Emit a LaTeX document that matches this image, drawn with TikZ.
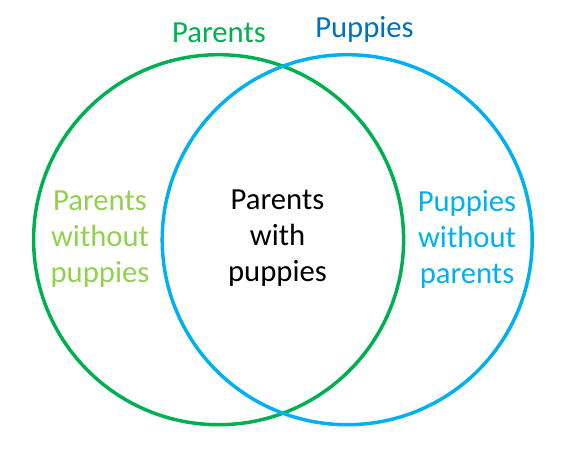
\documentclass[tikz,border=0pt]{standalone}
\usepackage{fontspec}
\setmainfont{Carlito}
\usetikzlibrary{positioning}
\definecolor{cgreen}{HTML}{00B050}
\definecolor{cblue}{HTML}{00B0F0}
\definecolor{cdarkblue}{HTML}{0070C0}
\definecolor{clightgreen}{HTML}{92D050}
\tikzset{
  every picture/.style={line width=2.6pt},
  ring/.style={draw=#1},
  settitle/.style={font=\fontsize{23}{27}\selectfont, text=#1, anchor=base, inner sep=0pt},
  region/.style={font=\fontsize{23}{27}\selectfont, text=#1, align=center, inner sep=0pt},
  region/.default=black,
}

\begin{document}
\begin{tikzpicture}[x=0.75pt, y=-0.75pt]
  \useasboundingbox (0,0) rectangle (577,451);
  \draw[ring=cgreen] (218.6,239.7) circle[radius=185];
  \draw[ring=cblue] (347.2,239.7) circle[radius=185];
  \node[settitle=cgreen] (parents) at (219,42) {Parents};
  \node[settitle=cdarkblue] (puppies) at (364.5,37) {Puppies};
  \node[region=clightgreen] (onlyparents) at (100,239) {Parents\\without\\puppies};
  \node[region] (both) at (277.5,238) {Parents\\with\\puppies};
  \node[region=cblue] (onlypuppies) at (467,239) {Puppies\\without\\parents};
\end{tikzpicture}
\end{document}
